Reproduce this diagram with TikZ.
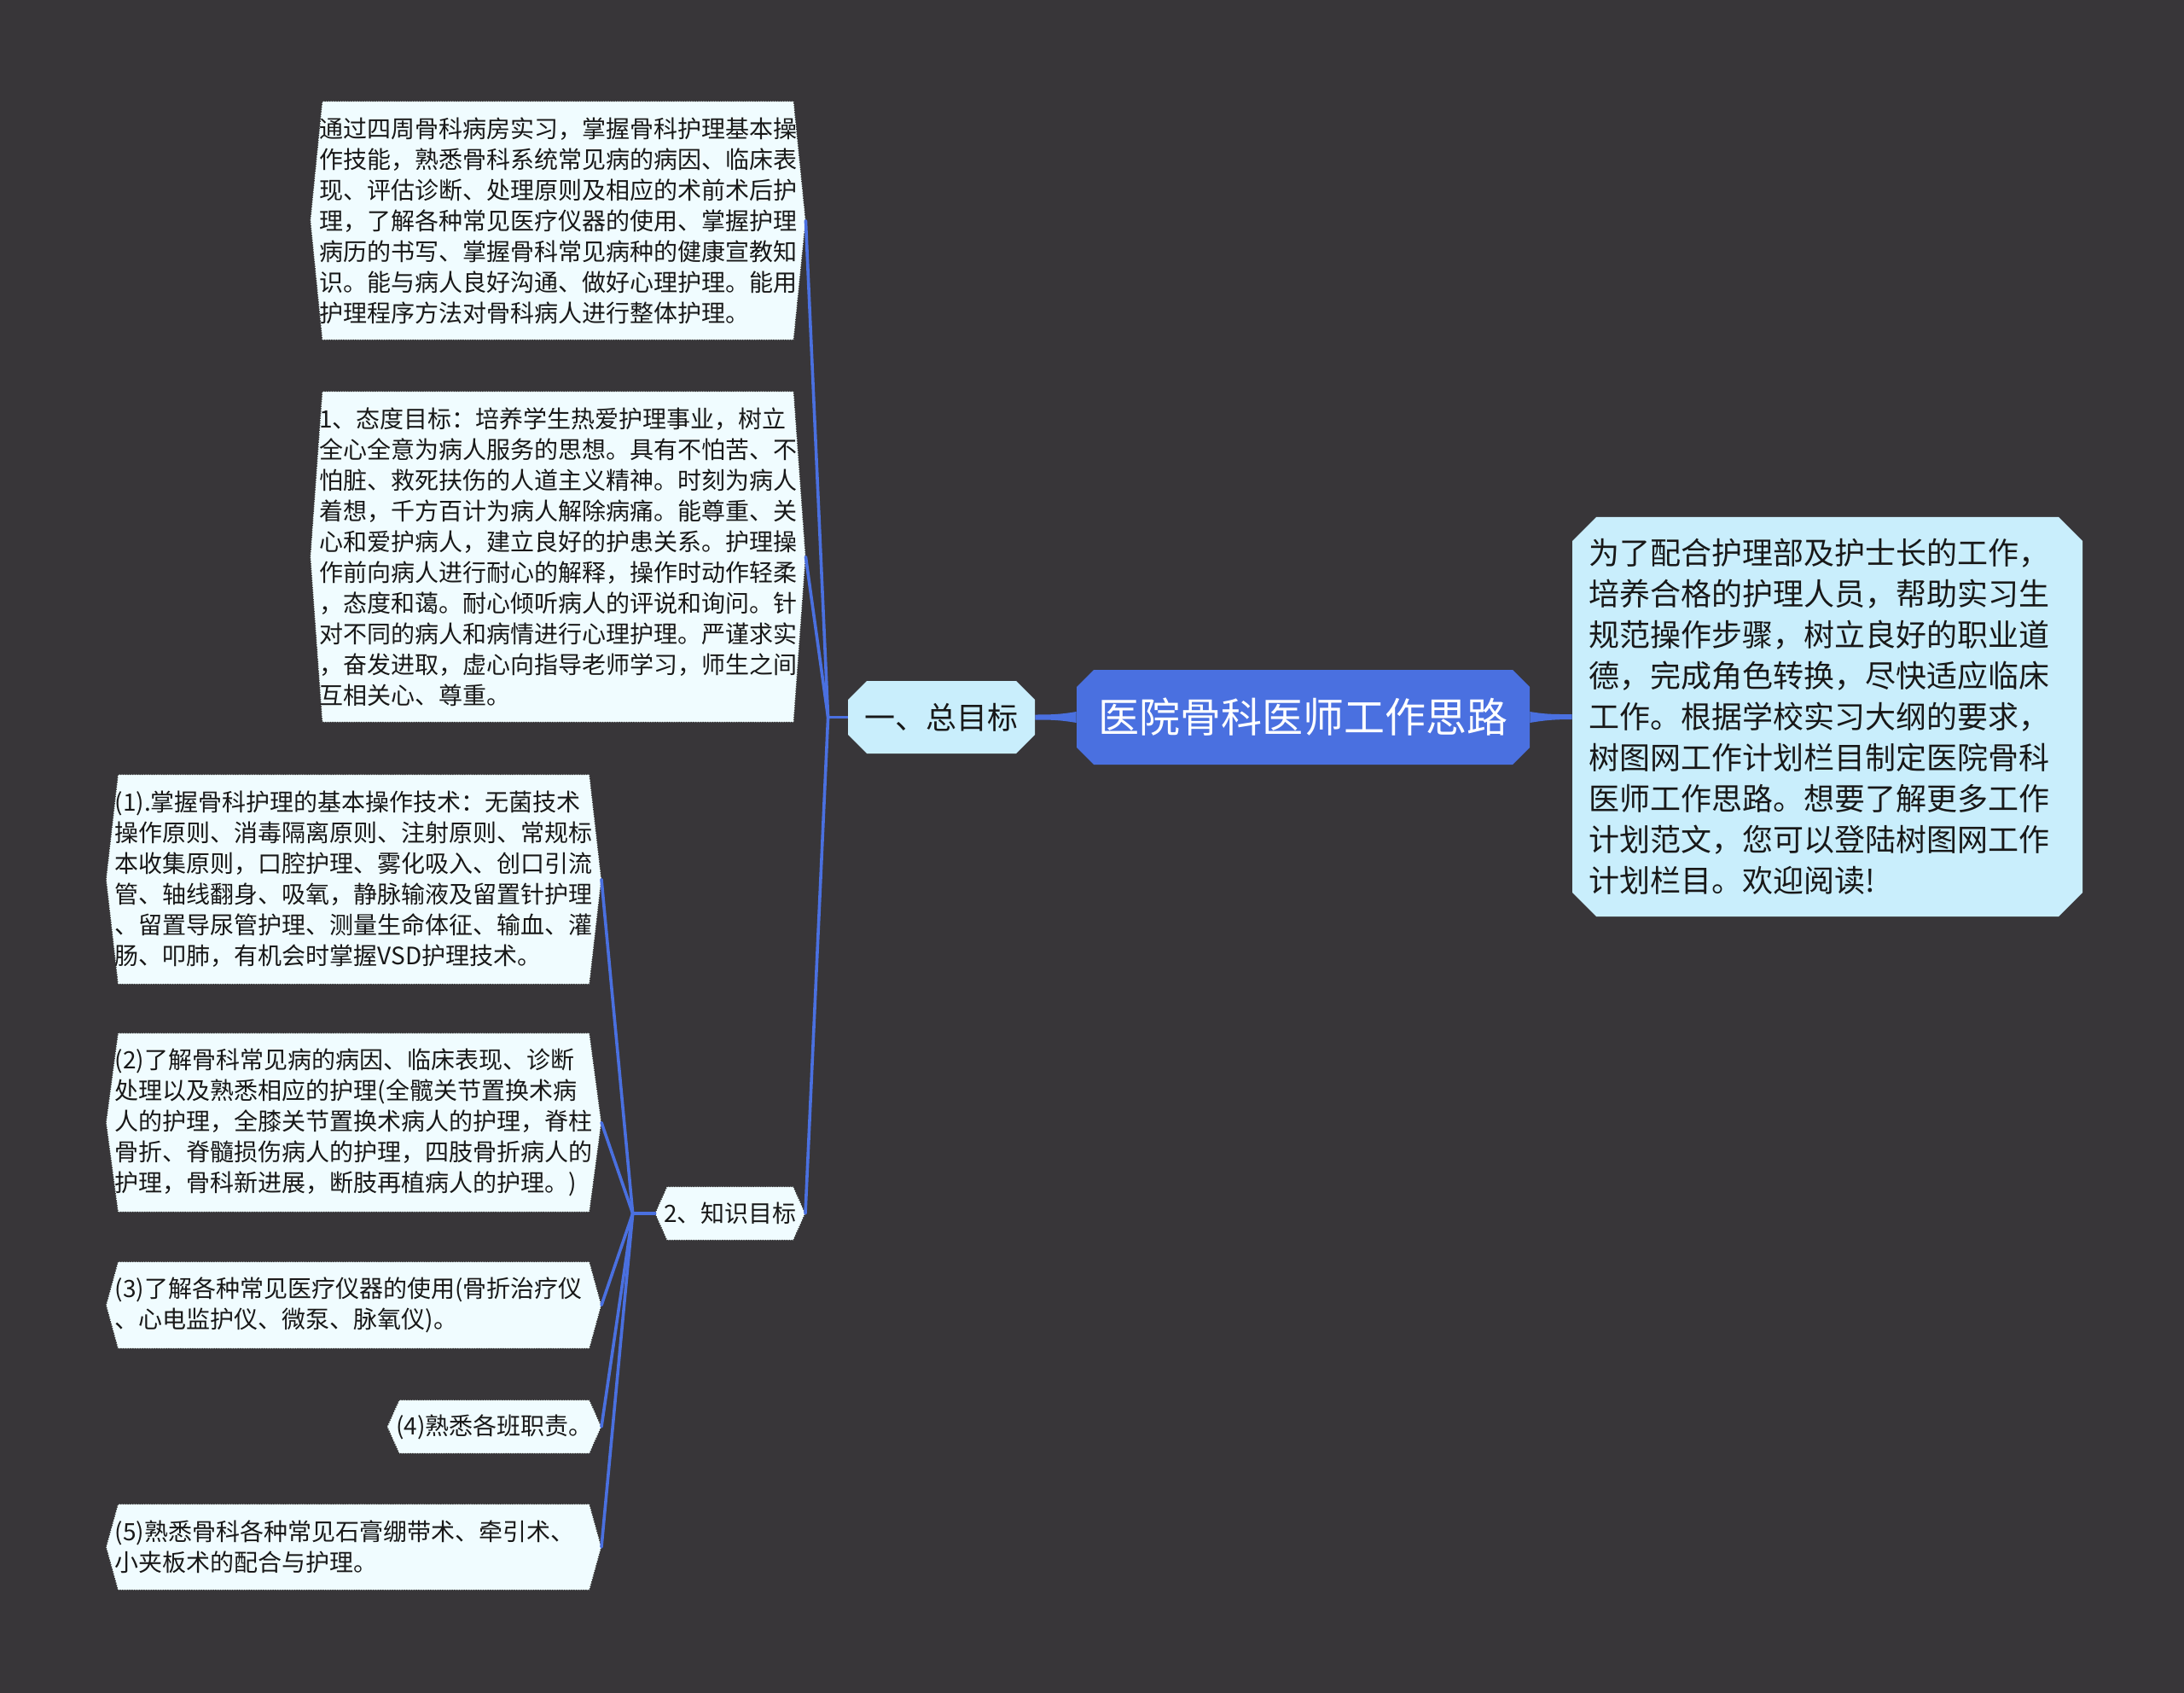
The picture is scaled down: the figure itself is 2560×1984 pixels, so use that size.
\documentclass[tikz,border=0pt]{standalone}
\usepackage{fontspec}
\newfontfamily\cjk{Noto Sans CJK SC}
\usetikzlibrary{positioning,shapes.misc,backgrounds}
\definecolor{bgc}{RGB}{56,54,57}
\definecolor{linkc}{RGB}{74,112,224}
\definecolor{rootc}{RGB}{74,112,224}
\definecolor{subc}{RGB}{201,238,252}
\definecolor{leafc}{RGB}{240,252,255}
\definecolor{txtc}{RGB}{24,24,24}

% hexagonal frame behind a leaf node, with named tips
\newcommand{\leafframe}[1]{%
  \path[leafhex] ([xshift=2pt]#1.north west) -- ([xshift=-2pt]#1.north east) -- ([xshift=5pt]#1.east)
    -- ([xshift=-2pt]#1.south east) -- ([xshift=2pt]#1.south west) -- ([xshift=-5pt]#1.west) -- cycle;
  \coordinate (#1-r) at ([xshift=5pt]#1.east);
  \coordinate (#1-l) at ([xshift=-5pt]#1.west);
}

\begin{document}
\begin{tikzpicture}[x=0.5pt, y=-0.5pt,
  font=\cjk,
  rootbox/.style={chamfered rectangle, chamfered rectangle xsep=5pt, chamfered rectangle ysep=5pt, fill=rootc, text=white, font=\cjk\fontsize{24}{30}\selectfont, minimum width=265.5pt, minimum height=55.5pt, inner sep=0pt},
  topicbox/.style={chamfered rectangle, chamfered rectangle xsep=5.5pt, chamfered rectangle ysep=5.5pt, fill=subc, text=txtc, font=\cjk\fontsize{18}{24}\selectfont, inner sep=0pt},
  leafbox/.style={text=txtc, font=\cjk\fontsize{14}{18}\selectfont, align=left, inner xsep=0pt, inner ysep=2pt},
  leafhex/.style={fill=leafc, draw=black!80, line width=0.6pt, dash pattern=on 0.7pt off 0.7pt},
  link/.style={linkc, line width=1.8pt, line cap=round, line join=round}]
\node[rootbox] (title) at (1527.5,840.5) {医院骨科医师工作思路};
\node[topicbox, minimum width=109.5pt, minimum height=42.5pt] (overall) at (1103.5,840.5) {一、总目标};
\node[topicbox, chamfered rectangle xsep=7pt, chamfered rectangle ysep=7pt, font=\cjk\fontsize{18}{24}\selectfont, text width=280pt, align=left, minimum width=299pt, minimum height=234pt] (intro) at (2142,840) {为了配合护理部及护士长的工作，\\培养合格的护理人员，帮助实习生\\规范操作步骤，树立良好的职业道\\德，完成角色转换，尽快适应临床\\工作。根据学校实习大纲的要求，\\树图网工作计划栏目制定医院骨科\\医师工作思路。想要了解更多工作\\计划范文，您可以登陆树图网工作\\计划栏目。欢迎阅读!};
\node[leafbox, text width=280pt, minimum height=139.5pt] (practice) at (654,258.5) {通过四周骨科病房实习，掌握骨科护理基本操\\作技能，熟悉骨科系统常见病的病因、临床表\\现、评估诊断、处理原则及相应的术前术后护\\理，了解各种常见医疗仪器的使用、掌握护理\\病历的书写、掌握骨科常见病种的健康宣教知\\识。能与病人良好沟通、做好心理护理。能用\\护理程序方法对骨科病人进行整体护理。};
\node[leafbox, text width=280pt, minimum height=193.5pt] (attitude) at (654,652.5) {1、态度目标：培养学生热爱护理事业，树立\\全心全意为病人服务的思想。具有不怕苦、不\\怕脏、救死扶伤的人道主义精神。时刻为病人\\着想，千方百计为病人解除病痛。能尊重、关\\心和爱护病人，建立良好的护患关系。护理操\\作前向病人进行耐心的解释，操作时动作轻柔\\，态度和蔼。耐心倾听病人的评说和询问。针\\对不同的病人和病情进行心理护理。严谨求实\\，奋发进取，虚心向指导老师学习，师生之间\\互相关心、尊重。};
\node[leafbox, anchor=east, minimum height=31pt] (know) at (934,1422) {2、知识目标};
\node[leafbox, anchor=east, text width=280pt, minimum height=122.5pt] (k1) at (695,1030.5) {(1).掌握骨科护理的基本操作技术：无菌技术\\操作原则、消毒隔离原则、注射原则、常规标\\本收集原则，口腔护理、雾化吸入、创口引流\\管、轴线翻身、吸氧，静脉输液及留置针护理\\、留置导尿管护理、测量生命体征、输血、灌\\肠、叩肺，有机会时掌握VSD护理技术。};
\node[leafbox, anchor=east, text width=280pt, minimum height=104.5pt] (k2) at (695,1315.5) {(2)了解骨科常见病的病因、临床表现、诊断\\处理以及熟悉相应的护理(全髋关节置换术病\\人的护理，全膝关节置换术病人的护理，脊柱\\骨折、脊髓损伤病人的护理，四肢骨折病人的\\护理，骨科新进展，断肢再植病人的护理。)};
\node[leafbox, anchor=east, text width=280pt, minimum height=50.5pt] (k3) at (695,1529.5) {(3)了解各种常见医疗仪器的使用(骨折治疗仪\\、心电监护仪、微泵、脉氧仪)。};
\node[leafbox, anchor=east, minimum height=31pt] (k4) at (695,1672) {(4)熟悉各班职责。};
\node[leafbox, anchor=east, text width=280pt, minimum height=50pt] (k5) at (695,1813) {(5)熟悉骨科各种常见石膏绷带术、牵引术、\\小夹板术的配合与护理。};
\begin{scope}[on background layer]
\fill[bgc] (0,0) rectangle (2560,1984);
\foreach \n in {practice,attitude,know,k1,k2,k3,k4,k5}
  \leafframe{\n};
\coordinate[left=11.5pt of overall.west] (hubA);
\coordinate[left=13pt of know-l] (hubB);
% tapered links from the root
\fill[linkc] ([yshift=3.25pt]title.west) .. controls ([xshift=-10pt,yshift=1.5pt]title.west) and ([xshift=8pt,yshift=1.5pt]overall.east) .. ([yshift=1.5pt]overall.east)
  -- ([yshift=-1.5pt]overall.east) .. controls ([xshift=8pt,yshift=-1.5pt]overall.east) and ([xshift=-10pt,yshift=-1.5pt]title.west) .. ([yshift=-3.25pt]title.west) -- cycle;
\fill[linkc] ([yshift=3.25pt]title.east) .. controls ([xshift=10pt,yshift=1.5pt]title.east) and ([xshift=-8pt,yshift=1.5pt]intro.west) .. ([yshift=1.5pt]intro.west)
  -- ([yshift=-1.5pt]intro.west) .. controls ([xshift=-8pt,yshift=-1.5pt]intro.west) and ([xshift=10pt,yshift=-1.5pt]title.east) .. ([yshift=-3.25pt]title.east) -- cycle;
\draw[link] (overall.west) -- (hubA);
\foreach \n in {practice,attitude,know}
  \draw[link] (hubA) -- (\n-r);
\draw[link] (know-l) -- (hubB);
\foreach \n in {k1,k2,k3,k4,k5}
  \draw[link] (hubB) -- (\n-r);
\end{scope}
\end{tikzpicture}
\end{document}
